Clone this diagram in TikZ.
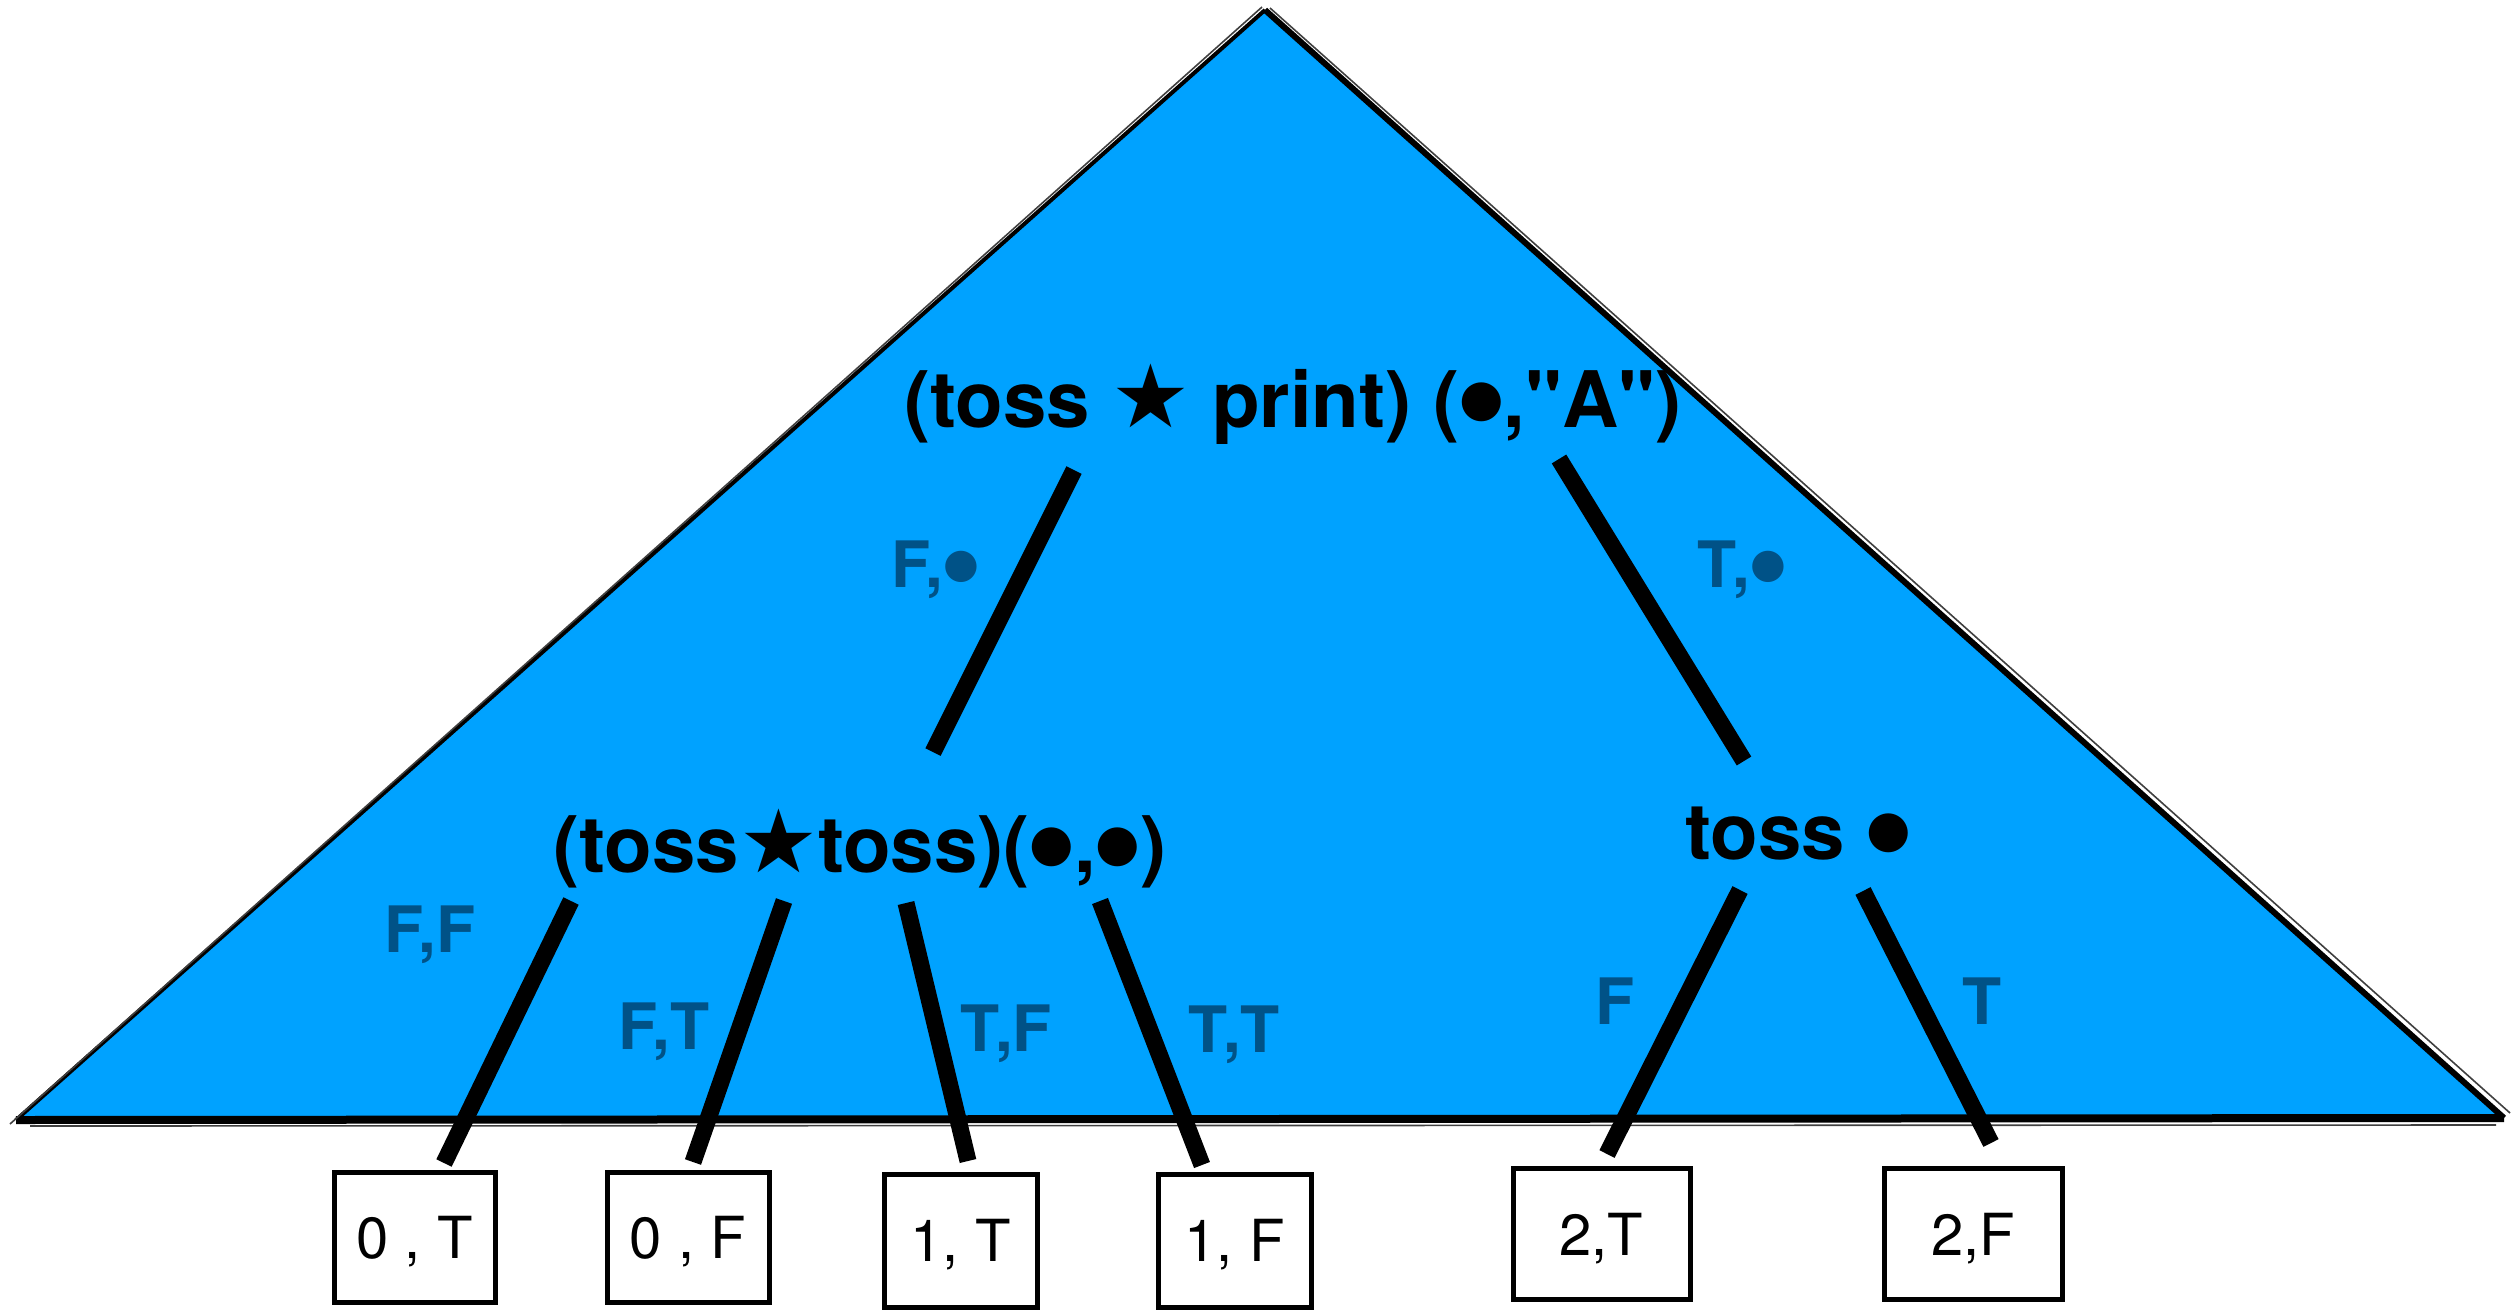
\documentclass[tikz,border=0pt]{standalone}
\usepackage{fontspec}
\setmainfont{TeX Gyre Heros}[Ligatures=TeXOff]
\newfontfamily\symf{DejaVu Sans}
\definecolor{triblue}{RGB}{0,162,255}
\definecolor{lblblue}{RGB}{0,82,135}
\newcommand\mystar[1]{{\symf\fontsize{#1}{#1}\selectfont ★}}
\newcommand\tdot[2]{\raisebox{#2}{\symf\fontsize{#1}{#1}\selectfont ●}}
\begin{document}
\begin{tikzpicture}[x=1pt,y=-1pt,
  edge/.style={line width=17pt, line cap=butt},
  bigtxt/.style={font=\bfseries\fontsize{78}{80}\selectfont, anchor=base, inner sep=0pt},
  lbl/.style={font=\bfseries\fontsize{64}{66}\selectfont, text=lblblue, anchor=base, inner sep=0pt},
  leaf/.style={draw, line width=5pt, fill=white, font=\fontsize{58}{60}\selectfont, inner sep=0pt, text height=42pt, text depth=0pt},
  sketch/.style={line width=1.6pt, black!75}]
\useasboundingbox (0,0) rectangle (2514,1312);
% triangle
\coordinate (tl) at (16,1120);
\coordinate (tt) at (1265,10);
\coordinate (tr) at (2504,1118);
\fill[triblue] (tl) -- (tt) -- (tr) -- cycle;
\draw[line width=4pt] (tl) -- (tt);
\draw[line width=6pt] (tt) -- (tr);
\draw[line width=8pt] (tl) -- (tr);
\draw[sketch] (10,1124) -- (1262,7);
\draw[sketch] (1270,8) -- (2510,1113);
\draw[sketch] (30,1126) -- (2496,1125);
% main texts
\node[bigtxt] (root) at (1293,427) {(toss \mystar{88} print) (\tdot{51}{12pt},"A")};
\node[bigtxt] (left) at (860,872) {(toss\mystar{88}toss)(\tdot{51}{12pt},\tdot{51}{12pt})};
\node[bigtxt] (right) at (1798,859) {toss \tdot{51}{13pt}};
% edge labels
\node[lbl] (lFd) at (935,587) {F,\tdot{41}{10pt}};
\node[lbl] (lTd) at (1742,587) {T,\tdot{41}{10pt}};
\node[lbl] (lFF) at (430,952) {F,F};
\node[lbl] (lFT) at (664,1049) {F,T};
\node[lbl] (lTF) at (1006,1051) {T,F};
\node[lbl] (lTT) at (1234,1052) {T,T};
\node[lbl] (lF) at (1615,1024) {F};
\node[lbl] (lT) at (1982,1024) {T};
% connectors
\coordinate (e1a) at (1074,470); \coordinate (e1b) at (933,752);
\coordinate (e2a) at (1559,459); \coordinate (e2b) at (1744,761);
\coordinate (e3a) at (571,901);  \coordinate (e3b) at (444,1163);
\coordinate (e4a) at (784,901);  \coordinate (e4b) at (693,1162);
\coordinate (e5a) at (906,903);  \coordinate (e5b) at (968,1161);
\coordinate (e6a) at (1100,901); \coordinate (e6b) at (1202,1165);
\coordinate (e7a) at (1740,890); \coordinate (e7b) at (1607,1154);
\coordinate (e8a) at (1863,891); \coordinate (e8b) at (1991,1143);
\foreach \i in {1,...,8} \draw[edge] (e\i a) -- (e\i b);
% leaves
\node[leaf, minimum width=161pt, minimum height=130pt] (b1) at (414.5,1237.5) {0 , T};
\node[leaf, minimum width=162pt, minimum height=130pt] (b2) at (688,1237.5) {0 , F};
\node[leaf, minimum width=153pt, minimum height=133pt] (b3) at (960.5,1240.5) {1, T};
\node[leaf, minimum width=153pt, minimum height=133pt] (b4) at (1234.5,1240.5) {1, F};
\node[leaf, minimum width=177pt, minimum height=131pt] (b5) at (1601.5,1234) {2,T};
\node[leaf, minimum width=178pt, minimum height=131pt] (b6) at (1973,1234) {2,F};
\end{tikzpicture}
\end{document}
